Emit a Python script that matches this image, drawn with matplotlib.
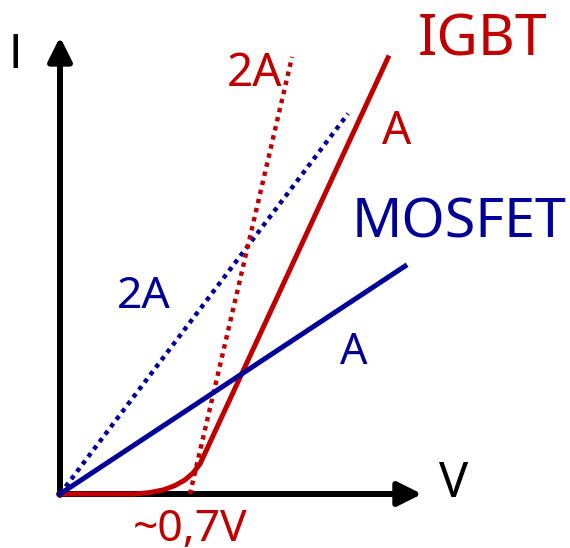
import numpy as np
from matplotlib import pyplot as plt

# I-V characteristics, MOSFET vs IGBT (arbitrary units, 0.7 V knee)
mosfet_v = [0.0, 1.885]
mosfet_i = [0.0, 1.245]
mosfet2_v = [0.0, 1.574]
mosfet2_i = [0.0, 2.078]

igbt_v = [0.0, 0.410, 0.492, 0.563, 0.628, 0.683, 0.727, 0.765, 1.792]
igbt_i = [0.0, 0.0, 0.008, 0.022, 0.046, 0.077, 0.115, 0.164, 2.383]
igbt2_v = [0.710, 1.268]
igbt2_i = [0.0, 2.388]

v_axis_end = 1.978
i_axis_end = 2.497

RED = '#c00000'
BLUE = '#000099'

plt.rcParams['font.family'] = ['Noto Sans', 'DejaVu Sans']
plt.rcParams['font.stretch'] = 'semi-condensed'

fig = plt.figure(figsize=(5.7, 5.48), dpi=100)
ax = fig.add_axes([0, 0, 1, 1])
ax.set_xlim(-0.328, 2.787)
ax.set_ylim(-0.295, 2.699)
ax.axis('off')

# axes with arrows
arrow = dict(arrowstyle='-|>,head_length=0.8,head_width=0.4', mutation_scale=18,
             lw=4.3, color='black', shrinkA=0, shrinkB=0)
ax.annotate('', xy=(0, i_axis_end), xytext=(0, -0.005), arrowprops=arrow, zorder=1)
ax.annotate('', xy=(v_axis_end, 0), xytext=(-0.005, 0), arrowprops=arrow, zorder=1)

# curves
ax.plot(mosfet2_v, mosfet2_i, color=BLUE, lw=3.2, linestyle=(0, (1, 1.1)), zorder=3)
ax.plot(igbt2_v, igbt2_i, color=RED, lw=3.2, linestyle=(0, (1, 1.1)), zorder=3)
ax.plot(igbt_v, igbt_i, color=RED, lw=3.6, solid_joinstyle='round', zorder=4)
ax.plot(mosfet_v, mosfet_i, color=BLUE, lw=3.6, zorder=5)

# labels
ax.text(-0.281, 2.328, 'I', color='black', fontsize=33, ha='left', va='baseline',
        family='DejaVu Sans', fontstretch='normal')
ax.text(2.071, -0.016, 'V', color='black', fontsize=35, ha='left', va='baseline')
ax.text(1.956, 2.394, 'IGBT', color=RED, fontsize=41, ha='left', va='baseline')
ax.text(0.913, 2.230, '2A', color=RED, fontsize=33, ha='left', va='baseline')
ax.text(1.760, 1.912, 'A', color=RED, fontsize=33, ha='left', va='baseline')
ax.text(1.596, 1.402, 'MOSFET', color=BLUE, fontsize=40, ha='left', va='baseline')
ax.text(0.311, 1.015, '2A', color=BLUE, fontsize=32, ha='left', va='baseline')
ax.text(1.530, 0.710, 'A', color=BLUE, fontsize=31, ha='left', va='baseline')
ax.text(0.399, -0.257, '~0,7V', color=RED, fontsize=32, ha='left', va='baseline')

plt.savefig('out.png', dpi=100)
